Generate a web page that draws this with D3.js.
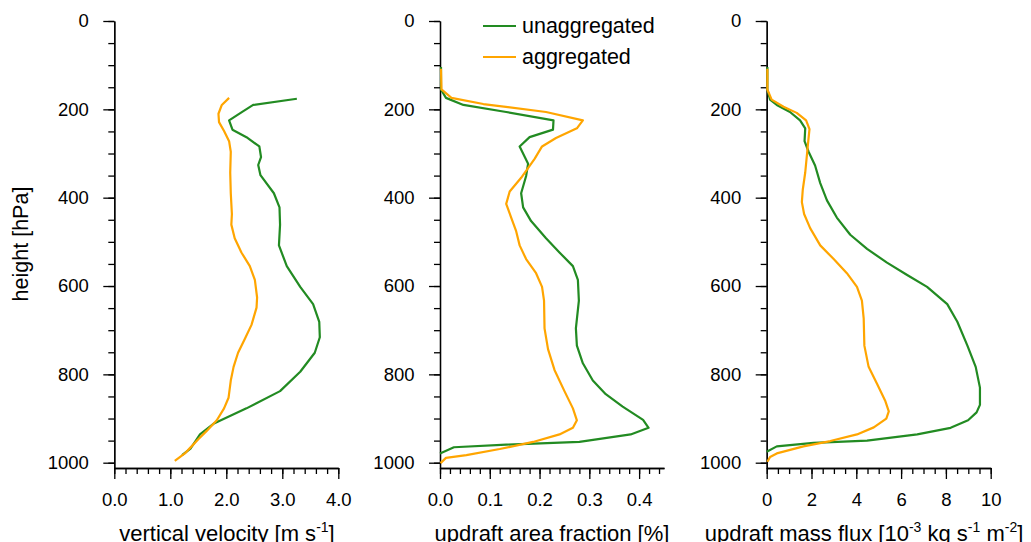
<!DOCTYPE html>
<html>
<head>
<meta charset="utf-8">
<script src="https://cdn.jsdelivr.net/npm/d3@7"></script>
<style>
  body { margin: 0; background: #fff; }
  svg { display: block; font-family: "Liberation Sans", Arial, Helvetica, sans-serif; }
</style>
</head>
<body>
<div id="chart"></div>
<script>
////// DATA ////////
// pressure levels [hPa] and values

// vertical velocity [m s-1]
var wUnaggP = [176, 190, 207, 225, 246, 263, 284, 308, 326, 349, 390, 422, 461, 508, 555, 602, 641, 681, 716, 751, 794, 838, 877, 912, 936, 951, 968, 983];
var wUnaggV = [3.26, 2.48, 2.27, 2.05, 2.11, 2.36, 2.59, 2.62, 2.57, 2.61, 2.85, 2.95, 2.96, 2.94, 3.08, 3.32, 3.55, 3.66, 3.67, 3.58, 3.32, 2.96, 2.36, 1.77, 1.53, 1.45, 1.36, 1.21];
var wAggP = [174, 190, 210, 229, 249, 272, 296, 343, 390, 437, 461, 492, 524, 555, 586, 626, 649, 688, 720, 751, 783, 814, 853, 877, 904, 928, 947, 967, 979, 996];
var wAggV = [2.05, 1.92, 1.86, 1.87, 1.96, 2.05, 2.08, 2.07, 2.08, 2.10, 2.09, 2.15, 2.27, 2.42, 2.51, 2.55, 2.54, 2.45, 2.33, 2.21, 2.13, 2.08, 2.04, 1.96, 1.83, 1.65, 1.50, 1.35, 1.26, 1.08];

// updraft area fraction [%]
var afUnaggP = [104, 155, 174, 190, 206, 225, 246, 263, 284, 323, 351, 390, 422, 453, 492, 524, 555, 586, 633, 696, 735, 775, 814, 845, 873, 903, 921, 936, 953, 959, 965, 979];
var afUnaggV = [0.002, 0.002, 0.012, 0.047, 0.133, 0.228, 0.227, 0.18, 0.16, 0.177, 0.173, 0.163, 0.167, 0.183, 0.213, 0.24, 0.267, 0.277, 0.279, 0.273, 0.275, 0.287, 0.307, 0.333, 0.367, 0.408, 0.419, 0.383, 0.28, 0.133, 0.028, 0.0];
var afAggP = [108, 155, 174, 188, 206, 225, 243, 265, 284, 312, 355, 386, 414, 445, 476, 508, 539, 571, 602, 633, 696, 743, 790, 838, 877, 904, 921, 936, 953, 969, 983, 989, 1001];
var afAggV = [0.002, 0.003, 0.023, 0.087, 0.213, 0.287, 0.275, 0.233, 0.205, 0.19, 0.163, 0.14, 0.133, 0.143, 0.153, 0.16, 0.173, 0.193, 0.205, 0.209, 0.21, 0.217, 0.23, 0.25, 0.267, 0.275, 0.267, 0.24, 0.187, 0.12, 0.053, 0.012, 0.001];

// updraft mass flux [10-3 kg s-1 m-2]
var mfUnaggP = [104, 155, 178, 190, 206, 225, 243, 272, 296, 327, 367, 406, 445, 484, 516, 547, 575, 602, 641, 681, 735, 783, 830, 869, 886, 904, 921, 936, 950, 955, 963, 975];
var mfUnaggV = [0.03, 0.03, 0.15, 0.45, 1.04, 1.49, 1.72, 1.69, 1.87, 2.16, 2.39, 2.69, 3.13, 3.73, 4.48, 5.37, 6.27, 7.16, 8.06, 8.51, 8.96, 9.33, 9.52, 9.52, 9.37, 8.99, 8.21, 6.72, 4.48, 2.09, 0.45, 0.0];
var mfAggP = [108, 155, 178, 194, 208, 225, 245, 280, 343, 382, 410, 437, 469, 508, 539, 571, 602, 633, 673, 735, 783, 822, 861, 884, 900, 920, 936, 951, 963, 979, 987, 998];
var mfAggV = [0.03, 0.03, 0.22, 0.75, 1.34, 1.76, 1.91, 1.84, 1.72, 1.61, 1.57, 1.67, 1.94, 2.39, 2.99, 3.58, 4.03, 4.25, 4.33, 4.36, 4.55, 4.93, 5.30, 5.45, 5.34, 4.78, 4.03, 2.84, 1.64, 0.45, 0.15, 0.03];

// ticks
var yMajor = [0, 200, 400, 600, 800, 1000];
var wTicks = [0, 1, 2, 3, 4];
var afTicks = [0, 0.1, 0.2, 0.3, 0.4];
var mfTicks = [0, 2, 4, 6, 8, 10];

var seriesNames = ["unaggregated", "aggregated"];
var seriesColours = ["#228b22", "#ffa500"];
///////////////////////

var w = 1031;
var h = 542;
var axisW = 224;

var svg = d3.select("#chart")
  .append("svg")
  .attr("width", w)
  .attr("height", h);

var yScale = d3.scaleLinear()
  .domain([0, 1012])
  .range([21, 468]);

function zip(p, v) {
  return p.map(function (d, i) { return [v[i], d]; });
}

var panels = [
  { x0: 114.3, domain: [0, 4], ticks: wTicks, minor: 0.2, fmt: d3.format(".1f"),
    series: [zip(wUnaggP, wUnaggV), zip(wAggP, wAggV)],
    title: [["vertical velocity [m s", 0], ["-1", 1], ["]", 0]], titleX: 227 },
  { x0: 440, domain: [0, 0.45], ticks: afTicks, minor: 0.02, fmt: d3.format(".1f"),
    series: [zip(afUnaggP, afUnaggV), zip(afAggP, afAggV)],
    title: [["updraft area fraction [%]", 0]], titleX: 552 },
  { x0: 766.7, domain: [0, 10], ticks: mfTicks, minor: 0.5, fmt: d3.format("d"),
    series: [zip(mfUnaggP, mfUnaggV), zip(mfAggP, mfAggV)],
    title: [["updraft mass flux [10", 0], ["-3", 1], [" kg s", 0], ["-1", 1], [" m", 0], ["-2", 1], ["]", 0]], titleX: 864 }
];

panels.forEach(function (p) {
  var xScale = d3.scaleLinear()
    .domain(p.domain)
    .range([p.x0, p.x0 + axisW]);

  var g = svg.append("g");
  var yBottom = yScale.range()[1];

  // minor ticks
  var xMinor = d3.range(p.domain[0], p.domain[1] + 1e-9, p.minor);
  g.append("g")
    .attr("transform", "translate(0," + yBottom + ")")
    .call(d3.axisBottom(xScale).tickValues(xMinor).tickSize(6).tickSizeOuter(0).tickFormat(""));
  g.append("g")
    .attr("transform", "translate(" + p.x0 + ",0)")
    .call(d3.axisLeft(yScale).tickValues(d3.range(0, 1001, 50)).tickSize(6).tickSizeOuter(0).tickFormat(""));

  // major ticks + labels
  g.append("g")
    .attr("transform", "translate(0," + yBottom + ")")
    .call(d3.axisBottom(xScale).tickValues(p.ticks).tickSize(11).tickSizeOuter(0).tickPadding(13.5).tickFormat(p.fmt));
  g.append("g")
    .attr("transform", "translate(" + p.x0 + ",0)")
    .call(d3.axisLeft(yScale).tickValues(yMajor).tickSize(11).tickSizeOuter(0).tickPadding(14.5).tickFormat(d3.format("d")));

  g.selectAll(".domain, .tick line")
    .attr("stroke", "#000")
    .attr("stroke-width", 1.3);
  g.selectAll(".tick text")
    .attr("fill", "#000")
    .style("font-size", "18.5px")
    .style("font-family", "'Liberation Sans', Arial, sans-serif");

  // curves
  var line = d3.line()
    .x(function (d) { return xScale(d[0]); })
    .y(function (d) { return yScale(d[1]); });

  g.selectAll("path.profile")
    .data(p.series)
    .enter()
    .append("path")
    .attr("class", "profile")
    .attr("d", line)
    .attr("fill", "none")
    .attr("stroke", function (d, i) { return seriesColours[i]; })
    .attr("stroke-width", 2.2)
    .attr("stroke-linejoin", "round");

  // x axis title, with superscripts
  var t = g.append("text")
    .attr("x", p.titleX)
    .attr("y", 541)
    .attr("text-anchor", "middle")
    .style("font-size", "22px")
    .attr("fill", "#000");
  var raised = false;
  p.title.forEach(function (s) {
    var up = s[1] == 1;
    var dy = 0;
    if (up && !raised) dy = -9;
    if (!up && raised) dy = 9;
    raised = up;
    t.append("tspan")
      .attr("dy", dy)
      .style("font-size", up ? "14px" : "22px")
      .text(s[0]);
  });
});

// y axis title
svg.append("text")
  .attr("transform", "translate(28,244) rotate(-90)")
  .attr("text-anchor", "middle")
  .style("font-size", "21.5px")
  .attr("fill", "#000")
  .text("height [hPa]");

// legend (inside middle panel)
var legend = svg.selectAll("g.legend")
  .data(seriesNames)
  .enter()
  .append("g")
  .attr("class", "legend")
  .attr("transform", function (d, i) { return "translate(483," + (26 + i * 31) + ")"; });

legend.append("line")
  .attr("x1", 0)
  .attr("x2", 33)
  .attr("stroke", function (d, i) { return seriesColours[i]; })
  .attr("stroke-width", 2.2);

legend.append("text")
  .attr("x", 39)
  .attr("y", 7)
  .style("font-size", "21.5px")
  .attr("fill", "#000")
  .text(function (d) { return d; });
</script>
</body>
</html>
